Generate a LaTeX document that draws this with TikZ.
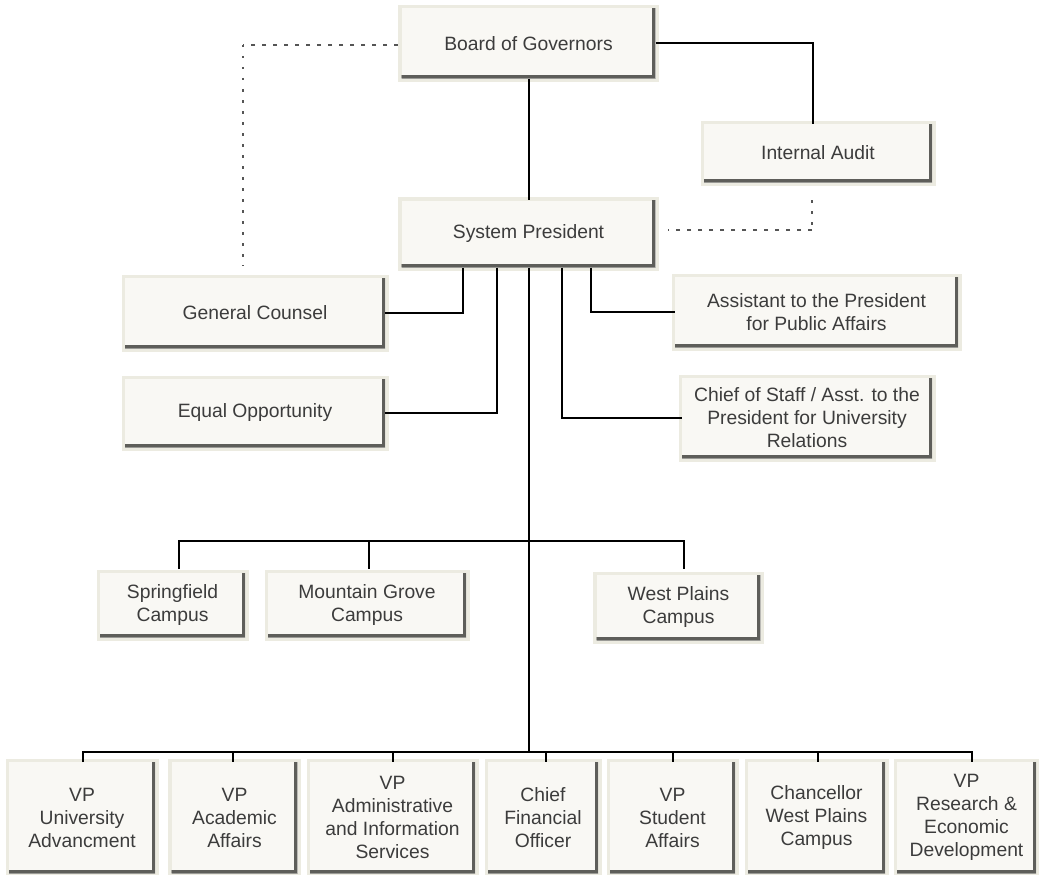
\documentclass[tikz,border=0pt]{standalone}
\usepackage{fontspec}
\setmainfont{Liberation Sans}
\definecolor{facec}{HTML}{F9F8F4}
\definecolor{glowc}{HTML}{ECEBE1}
\definecolor{shadc}{HTML}{9A9A96}
\definecolor{shadd}{HTML}{5E5E5A}
\definecolor{txtc}{HTML}{3C3C3C}
\definecolor{dotc}{HTML}{555555}
\tikzset{
  box/.style={rectangle, fill=facec, inner sep=0pt, align=center, text=txtc,
    font=\fontsize{19.3}{23}\selectfont,
    preaction={draw=glowc, line width=7pt, rounded corners=4pt},
    path picture={
      \draw[shadc, line width=7pt] ([yshift=20pt]path picture bounding box.north east) -- (path picture bounding box.south east) -- ([xshift=-20pt]path picture bounding box.south west);
      \draw[shadd, line width=3pt] ([xshift=-2pt,yshift=20pt]path picture bounding box.north east) -- ([xshift=-2pt,yshift=2pt]path picture bounding box.south east) -- ([xshift=-20pt,yshift=2pt]path picture bounding box.south west);
    }},
  wire/.style={draw=black, line width=2pt},
  hdots/.style={draw=dotc, line width=2pt, dash pattern=on 4pt off 7pt},
  vdots/.style={draw=dotc, line width=2pt, dash pattern=on 2.5pt off 8.5pt},
}
\begin{document}
\begin{tikzpicture}[x=1pt, y=-1pt]
\useasboundingbox (0,0) rectangle (1039,875);
% top boxes
\node[box, minimum width=254pt, minimum height=70pt] (board) at (528.5,43.5) {Board of Governors};
\node[box, minimum width=228pt, minimum height=58pt] (audit) at (818,153) {Internal Audit};
\node[box, minimum width=254pt, minimum height=67pt] (pres) at (528.5,234) {System President};
\node[box, minimum width=260pt, minimum height=70pt] (counsel) at (255,313) {General Counsel};
\node[box, minimum width=260pt, minimum height=68pt] (equal) at (255,413) {Equal Opportunity};
\node[box, minimum width=283pt, minimum height=70pt] (assist) at (816.5,312) {Assistant to the President\\for Public Affairs};
\node[box, minimum width=250pt, minimum height=80pt] (chief) at (807,418) {Chief of Staff / Asst. to the\\President for University\\Relations};
% campuses
\node[box, minimum width=145pt, minimum height=64pt] (spring) at (172.5,605) {Springfield\\Campus};
\node[box, minimum width=198pt, minimum height=64pt] (mount) at (367,605) {Mountain Grove\\Campus};
\node[box, minimum width=164pt, minimum height=65pt] (west) at (678.5,607.5) {West Plains\\Campus};
% bottom row
\node[box, minimum width=146pt, minimum height=111pt] (vpua) at (82,817.5) {VP\\University\\Advancment};
\node[box, minimum width=126pt, minimum height=111pt] (vpaa) at (234.5,817.5) {VP\\Academic\\Affairs};
\node[box, minimum width=165pt, minimum height=111pt] (vpad) at (392.5,817.5) {VP\\Administrative\\and Information\\Services};
\node[box, minimum width=110pt, minimum height=111pt] (cfo) at (543,817.5) {Chief\\Financial\\Officer};
\node[box, minimum width=125pt, minimum height=111pt] (vpsa) at (672.5,817.5) {VP\\Student\\Affairs};
\node[box, minimum width=137pt, minimum height=111pt] (chanc) at (816.5,817.5) {Chancellor\\West Plains\\Campus};
\node[box, minimum width=139pt, minimum height=111pt] (vpre) at (966.5,817.5) {VP\\Research \&\\Economic\\Development};
% coordinates
\coordinate (auditJ) at (813,43.5);
\coordinate (dA1) at (812,200);
\coordinate (dA2) at (812,230);
\coordinate (dA3) at (668,230);
\coordinate (dB1) at (398,45);
\coordinate (dB2) at (243,45);
\coordinate (dB3) at (243,266);
\coordinate (busC) at (529,541);
\coordinate (busB) at (529,752);
% solid connectors
\draw[wire] (board.south) -- (pres.north);
\draw[wire] (board.east) -- (auditJ) -- (auditJ |- audit.north);
\draw[wire] (463,267.5) |- (counsel.east);
\draw[wire] (497,267.5) |- (equal.east);
\draw[wire] (562,267.5) |- (chief.west);
\draw[wire] (591,267.5) |- (assist.west);
\draw[wire] (529,267.5) -- (busB);
\draw[wire] (179,569) |- (busC) -| (684,569);
\draw[wire] (369,541) -- (369,569);
\draw[wire] (83,762) |- (busB) -| (972,762);
\foreach \x in {233,393,546,673,818} \draw[wire] (\x,752) -- (\x,762);
% dotted connectors
\draw[vdots] (dA1) -- (dA2);
\draw[hdots] (dA2) -- (dA3);
\draw[hdots] (dB1) -- (dB2);
\draw[vdots] (dB2) -- (dB3);
\end{tikzpicture}
\end{document}
